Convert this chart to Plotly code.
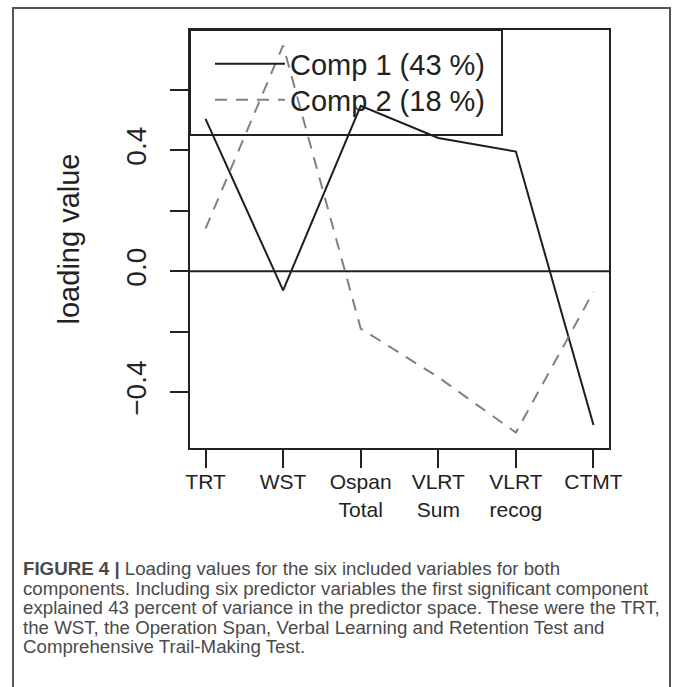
import plotly.graph_objects as go

# ---- data ----
categories = ["TRT", "WST", "Ospan<br>Total", "VLRT<br>Sum", "VLRT<br>recog", "CTMT"]
comp1 = [0.504, -0.063, 0.547, 0.441, 0.396, -0.508]
comp2 = [0.141, 0.747, -0.189, -0.350, -0.533, -0.067]
series_names = ["Comp 1 (43 %)", "Comp 2 (18 %)"]
y_tickvals = [-0.4, -0.2, 0.0, 0.2, 0.4, 0.6]
y_ticktext = ["\u22120.4", "", "0.0", "", "0.4", ""]
caption_lines = [
    "<b>FIGURE 4 |</b> Loading values for the six included variables for both",
    "components. Including six predictor variables the first significant component",
    "explained 43 percent of variance in the predictor space. These were the TRT,",
    "the WST, the Operation Span, Verbal Learning and Retention Test and",
    "Comprehensive Trail-Making Test.",
]

W, H = 673, 687
ML, MR, MT, MB = 190, 64, 30, 239
PW, PH = W - ML - MR, H - MT - MB


def px_x(x):
    return (x - ML) / PW


def px_y(y):
    return (H - MB - y) / PH


FONT = "Liberation Sans, Arial, Helvetica, sans-serif"
INK = "#222222"

fig = go.Figure()
fig.add_trace(go.Scatter(x=categories, y=comp1, mode="lines", name=series_names[0],
                         line=dict(color="#1e1e1e", width=2), legend="legend"))
fig.add_trace(go.Scatter(x=categories, y=comp2, mode="lines", name=series_names[1],
                         line=dict(color="#808080", width=2, dash="12px,9px"), legend="legend2"))

shapes = [
    # horizontal reference line at zero
    dict(type="line", xref="paper", yref="y", x0=0, x1=1, y0=0, y1=0,
         line=dict(color=INK, width=2), layer="below"),
    # legend box
    dict(type="rect", xref="paper", yref="paper", x0=0, x1=px_x(502), y0=px_y(135), y1=1,
         line=dict(color=INK, width=2), fillcolor="rgba(0,0,0,0)", layer="below"),
    # outer figure frame (left, top, right)
    dict(type="path", xref="paper", yref="paper",
         path=f"M {px_x(13)},{px_y(700)} L {px_x(13)},{px_y(8)} L {px_x(670)},{px_y(8)} L {px_x(670)},{px_y(700)}",
         line=dict(color="#555555", width=2)),
]

annotations = []
caption_y = [568, 588, 607.5, 627, 646.5]
for txt, yy in zip(caption_lines, caption_y):
    annotations.append(dict(text=txt, xref="paper", yref="paper", x=px_x(21), y=px_y(yy),
                            xanchor="left", yanchor="middle", showarrow=False,
                            font=dict(family=FONT, size=18.7, color="#4a4a4a")))

legend_common = dict(xanchor="left", yanchor="middle", bgcolor="rgba(0,0,0,0)", borderwidth=0,
                     font=dict(family=FONT, size=29, color=INK), itemwidth=70)

fig.update_layout(
    width=W, height=H,
    margin=dict(l=ML, r=MR, t=MT, b=MB, autoexpand=False),
    paper_bgcolor="white", plot_bgcolor="white",
    font=dict(family=FONT, color=INK),
    showlegend=True,
    legend=dict(x=px_x(210), y=px_y(64), **legend_common),
    legend2=dict(x=px_x(210), y=px_y(100), **legend_common),
    shapes=shapes,
    annotations=annotations,
    xaxis=dict(type="category", range=[-0.2, 5.2], showgrid=False, zeroline=False,
               showline=True, mirror=True, linecolor=INK, linewidth=2,
               ticks="outside", ticklen=18, tickwidth=2, tickcolor=INK,
               ticklabelstandoff=-4,
               tickfont=dict(family=FONT, size=21, color=INK), automargin=False),
    yaxis=dict(range=[-0.584, 0.798], showgrid=False, zeroline=False,
               showline=True, mirror=True, linecolor=INK, linewidth=2,
               ticks="outside", ticklen=18, tickwidth=2, tickcolor=INK,
               tickvals=y_tickvals, ticktext=y_ticktext, tickangle=-90,
               tickfont=dict(family=FONT, size=28, color=INK),
               ticklabelstandoff=13,
               title=dict(text="loading value", font=dict(family=FONT, size=29, color=INK), standoff=33),
               automargin=False),
)

fig.write_html("out.html", config={"displayModeBar": False},
               post_script="document.body.style.margin='0px';")
